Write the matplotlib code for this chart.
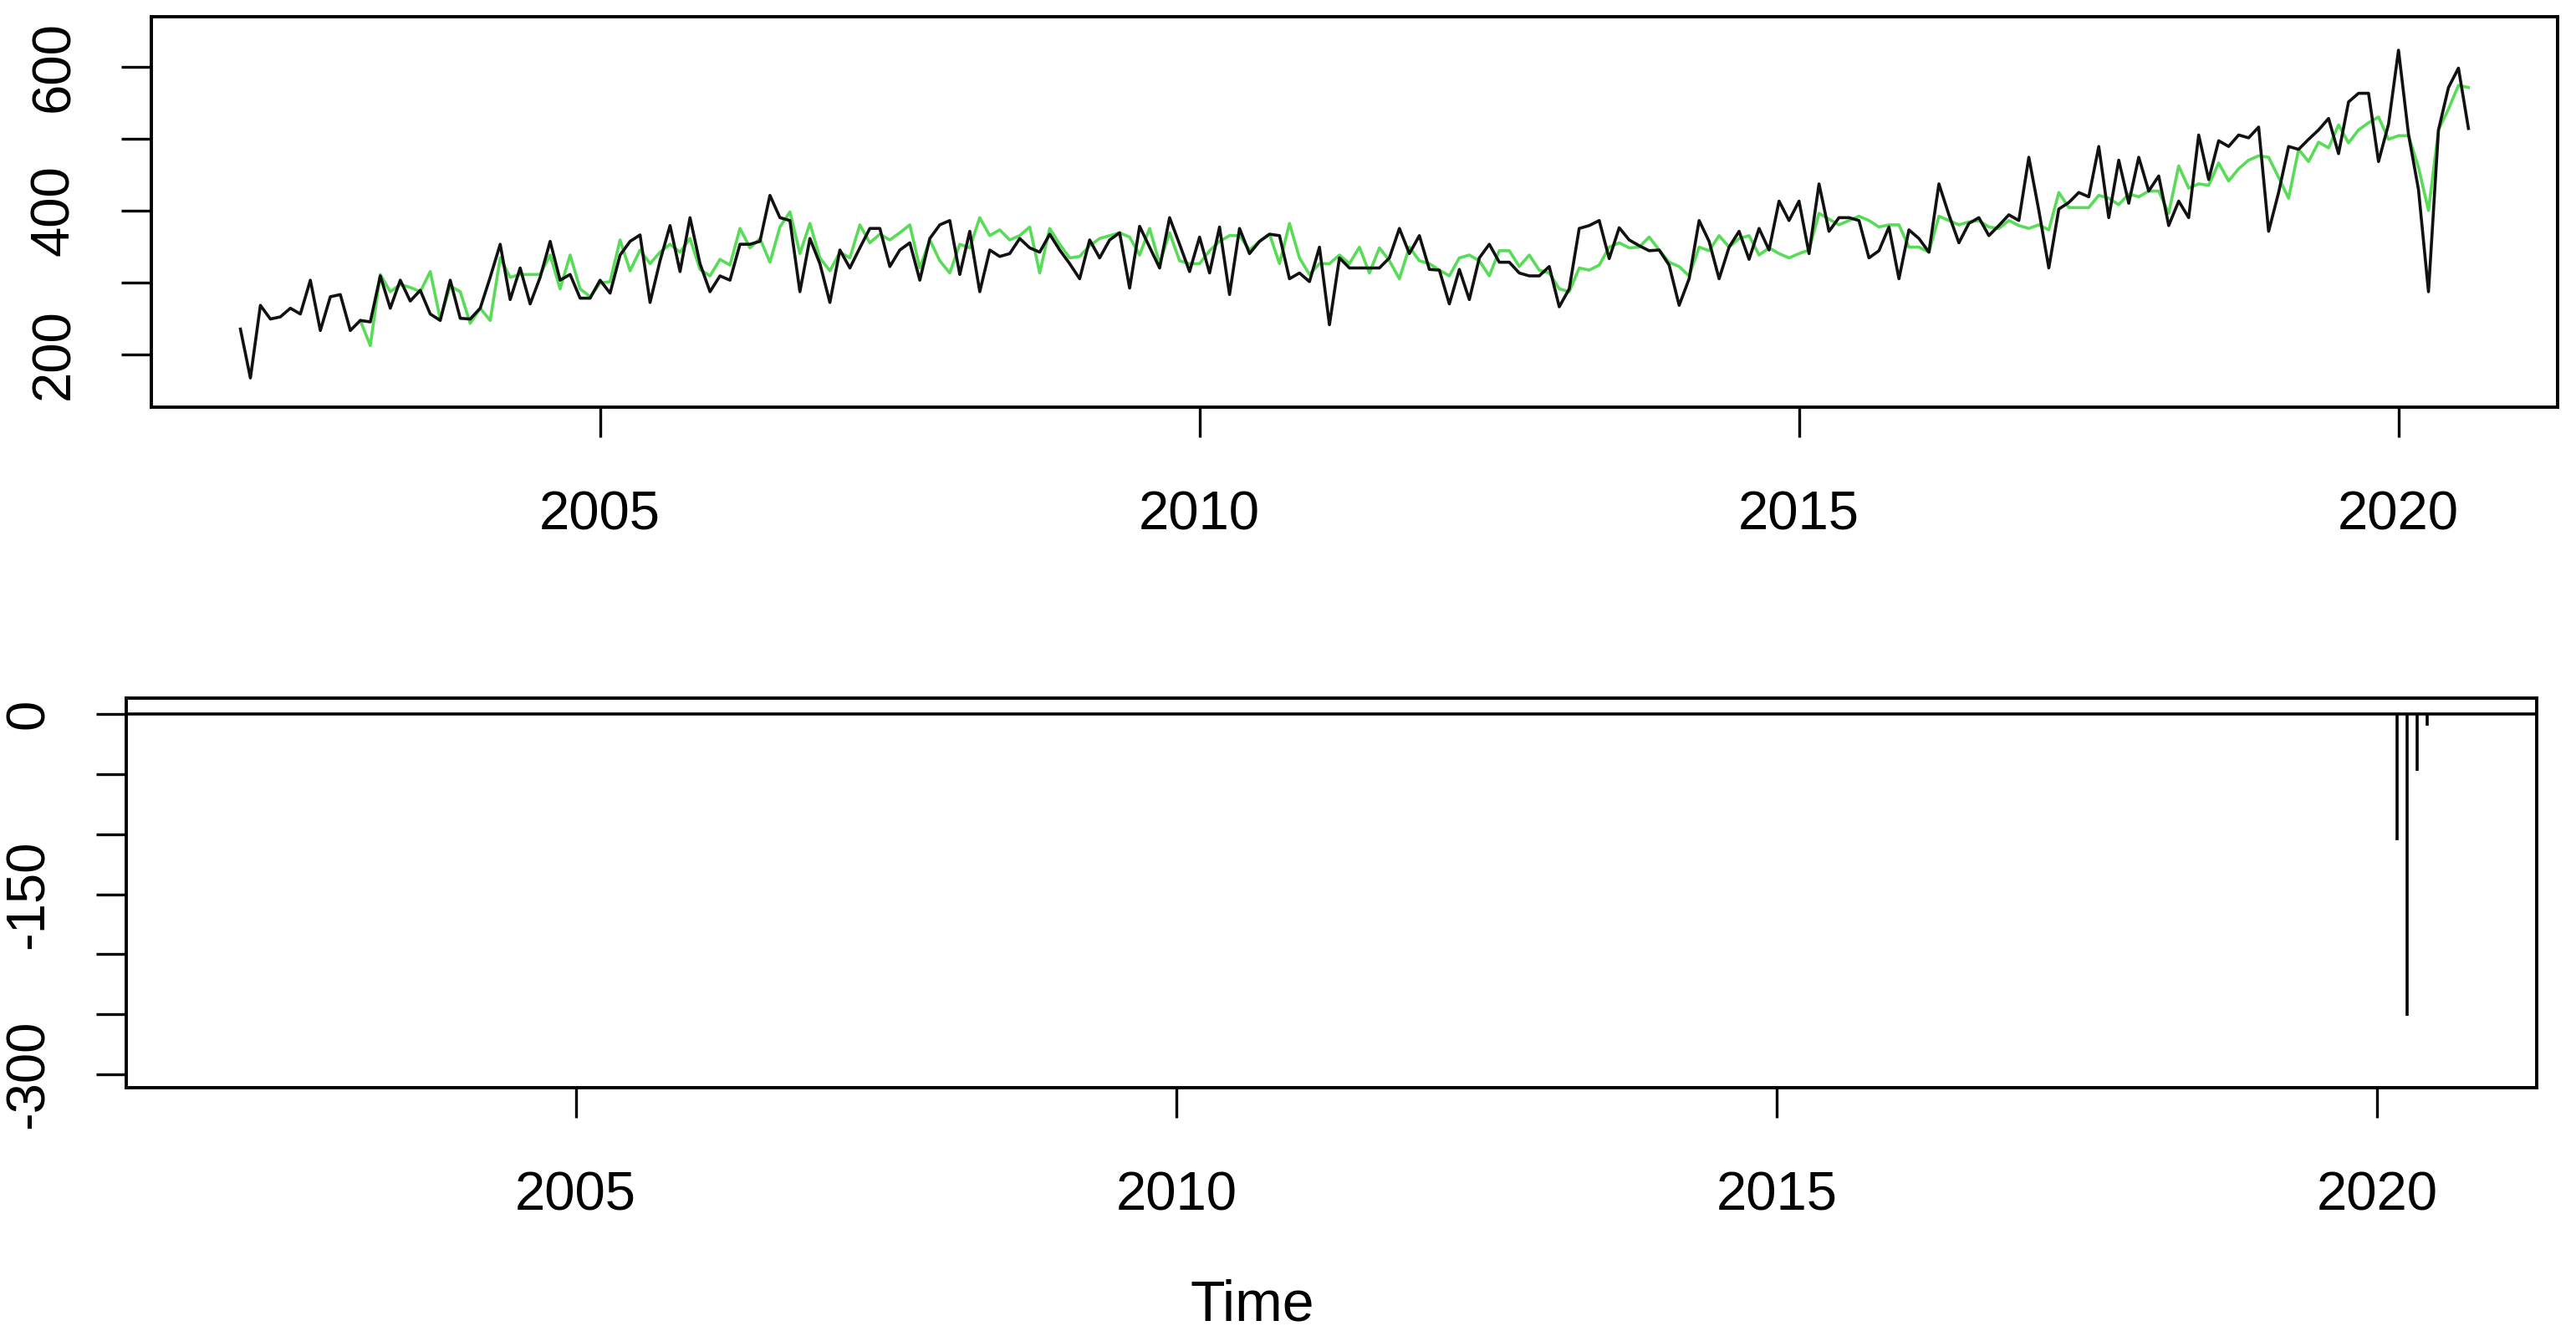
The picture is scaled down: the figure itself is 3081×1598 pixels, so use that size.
import numpy as np
import matplotlib
matplotlib.use("Agg")
import matplotlib.pyplot as plt

plt.rcParams['font.family'] = ['Liberation Sans', 'DejaVu Sans']

# ---------------- data (monthly, Jan 2002 .. Aug 2020) ----------------
start_year = 2002.0
observed = [
    235, 167, 268, 249, 252, 264, 256, 303, 233, 280, 283, 233,
    247, 245, 309, 264, 303, 274, 289, 256, 247, 303, 250, 249,
    264, 307, 353, 276, 320, 270, 307, 357, 303, 311, 278, 278,
    303, 285, 338, 357, 366, 272, 330, 379, 315, 390, 326, 287,
    309, 303, 353, 353, 357, 421, 390, 386, 287, 361, 326, 272,
    345, 320, 348, 375, 375, 322, 345, 355, 303, 361, 380, 386,
    311, 371, 287, 345, 336, 340, 361, 348, 342, 367, 345, 326,
    305, 359, 334, 359, 369, 292, 378, 349, 320, 390, 353, 315,
    363, 313, 377, 283, 375, 340, 357, 367, 365, 305, 313, 301,
    349, 241, 334, 320, 320, 320, 320, 334, 375, 340, 365, 318,
    317, 270, 318, 276, 334, 353, 328, 328, 313, 309, 309, 322,
    266, 291, 375, 379, 386, 333, 376, 359, 351, 344, 345, 324,
    268, 305, 386, 357, 305, 349, 371, 332, 375, 345, 413, 386,
    413, 340, 437, 371, 390, 390, 386, 334, 344, 377, 305, 373,
    361, 342, 437, 394, 355, 382, 390, 365, 379, 394, 386, 474,
    400, 320, 402, 411, 425, 419, 489, 390, 470, 410, 474, 427,
    448, 379, 413, 390, 505, 443, 497, 489, 505, 501, 516, 371,
    425, 489, 485, 499, 512, 528, 479, 551, 563, 563, 468, 520,
    623, 506, 429, 287, 512, 571, 598, 514,
]

fitted_start = 2003.0
fitted = [
    247, 212, 311, 287, 297, 293, 287, 315, 249, 295, 287, 243,
    264, 247, 334, 307, 311, 311, 311, 338, 291, 338, 291, 280,
    299, 301, 359, 316, 345, 326, 342, 353, 342, 361, 318, 309,
    332, 324, 375, 348, 361, 328, 377, 398, 340, 382, 334, 316,
    342, 334, 380, 355, 367, 359, 369, 380, 320, 359, 330, 313,
    353, 348, 390, 365, 373, 359, 365, 377, 313, 375, 353, 334,
    336, 351, 361, 365, 369, 363, 338, 375, 326, 369, 330, 326,
    326, 344, 357, 365, 365, 345, 357, 367, 326, 382, 334, 311,
    326, 326, 338, 326, 349, 313, 348, 330, 305, 349, 330, 326,
    317, 309, 334, 338, 330, 309, 344, 344, 322, 338, 317, 313,
    291, 287, 320, 317, 324, 349, 355, 348, 349, 363, 345, 328,
    322, 309, 349, 344, 365, 349, 361, 365, 338, 348, 340, 334,
    340, 345, 396, 388, 380, 386, 392, 386, 377, 380, 380, 349,
    349, 342, 392, 386, 380, 384, 386, 377, 375, 386, 379, 375,
    380, 373, 425, 404, 404, 404, 421, 417, 408, 423, 419, 427,
    427, 396, 462, 431, 437, 435, 466, 441, 458, 470, 476, 474,
    446, 417, 485, 468, 495, 487, 519, 494, 512, 522, 530, 499,
    504, 504, 460, 400, 512, 541, 574, 571,
]

# outlier effects (residual spikes), zero elsewhere
effects = [0.0] * len(observed)
effect_months = [218, 219, 220, 221]          # Mar..Jun 2020 (index from Jan 2002)
effect_values = [-105, -251, -47, -10]
for i, v in zip(effect_months, effect_values):
    effects[i] = v

t_obs = start_year + np.arange(len(observed)) / 12.0
t_fit = fitted_start + np.arange(len(fitted)) / 12.0

# ---------------- figure ----------------
W, H = 3081, 1598
DPI = 100
fig = plt.figure(figsize=(W / DPI, H / DPI), dpi=DPI)
fig.patch.set_facecolor('white')

def frac_box(l, r, top, bottom):
    return [l / W, 1 - bottom / H, (r - l) / W, (bottom - top) / H]

ax1 = fig.add_axes(frac_box(181, 3059, 20, 487))
ax2 = fig.add_axes(frac_box(151, 3034, 835, 1301))

LW = 2.6
FS = 47
green = '#58dc58'

ax1.plot(t_fit, fitted, color=green, lw=LW, zorder=2)
ax1.plot(t_obs, observed, color='#111111', lw=LW, zorder=3)

ax2.axhline(0, color='black', lw=LW)
ax2.vlines(t_obs, 0, effects, color='black', lw=LW)

xlim = (2001.257, 2021.327)
for ax in (ax1, ax2):
    ax.set_xlim(*xlim)
    ax.set_xticks([2005, 2010, 2015, 2020])
    ax.set_xticklabels(['2005', '2010', '2015', '2020'])
    for s in ax.spines.values():
        s.set_linewidth(2.8)
        s.set_color('black')
    ax.tick_params(axis='both', direction='out', length=26, width=2.4,
                   labelsize=FS, colors='black')
    ax.tick_params(axis='x', pad=46)
    ax.tick_params(axis='y', pad=36)

ax1.set_ylim(126.4, 669.5)
ax1.set_yticks([200, 300, 400, 500, 600])
ax1.set_yticklabels(['200', '', '400', '', '600'])

ax2.set_ylim(-311.2, 13.3)
ax2.set_yticks([0, -50, -100, -150, -200, -250, -300])
ax2.set_yticklabels(['0', '', '', '-150', '', '', '-300'])

for ax in (ax1, ax2):
    for lab in ax.get_yticklabels():
        lab.set_rotation(90)
        lab.set_va('center')

fig.text(1498 / W, 1 - 1580 / H, 'Time', ha='center', va='baseline', fontsize=FS + 2)

fig.savefig('out.png', dpi=DPI)
